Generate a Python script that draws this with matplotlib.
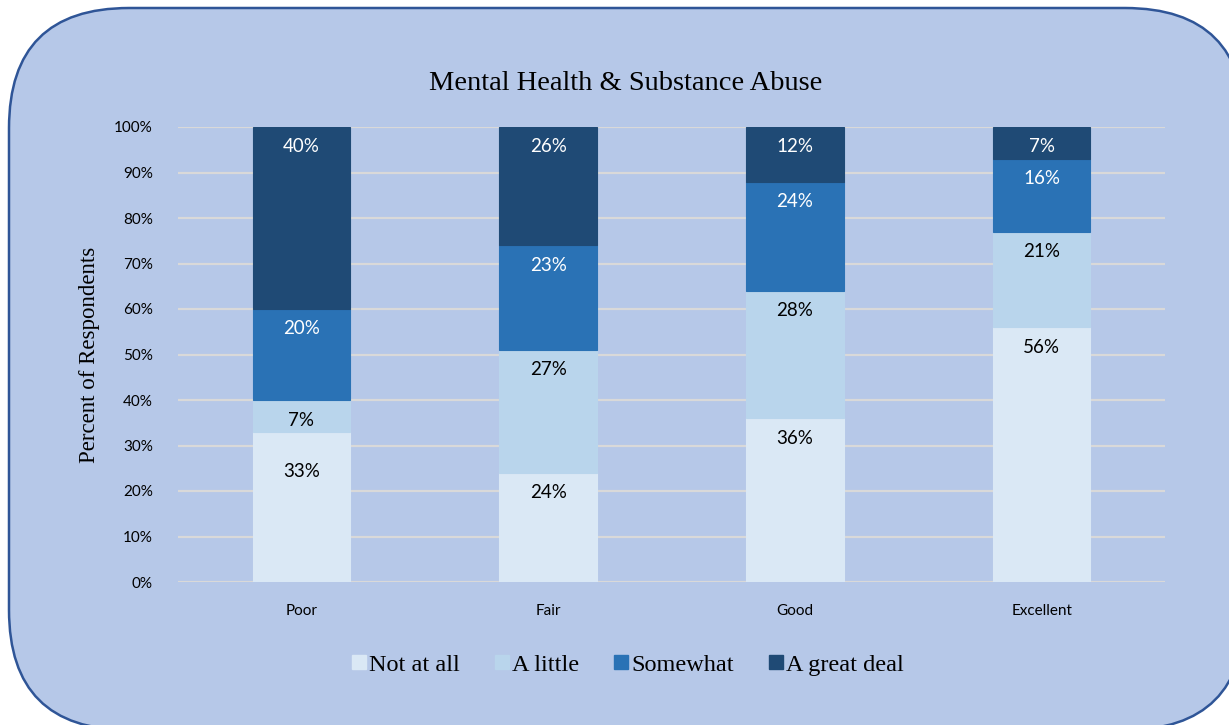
import matplotlib
matplotlib.use("Agg")
import matplotlib.pyplot as plt
from matplotlib.patches import FancyBboxPatch
from matplotlib.lines import Line2D
import numpy as np

categories = ["Poor", "Fair", "Good", "Excellent"]
series_names = ["Not at all", "A little", "Somewhat", "A great deal"]
not_at_all = [33, 24, 36, 56]
a_little = [7, 27, 28, 21]
somewhat = [20, 23, 24, 16]
great_deal = [40, 26, 12, 7]
y_ticks = [0, 10, 20, 30, 40, 50, 60, 70, 80, 90, 100]
title = "Mental Health & Substance Abuse"
y_label = "Percent of Respondents"

series = [not_at_all, a_little, somewhat, great_deal]
colors = ["#DAE8F5", "#B9D5EC", "#2A72B5", "#1F4A75"]
text_colors = ["black", "black", "white", "white"]

W, H = 1229, 725
fig = plt.figure(figsize=(W / 100, H / 100), dpi=100)
fig.patch.set_facecolor("white")

# rounded background panel
bg = FancyBboxPatch((0.09, -0.05), 12.36, 7.22,
                    boxstyle="round,pad=0,rounding_size=1.2",
                    transform=fig.dpi_scale_trans,
                    facecolor="#B6C8E8", edgecolor="#2F5597", linewidth=1.8,
                    zorder=-5)
fig.patches.append(bg)

ax = fig.add_axes([178 / W, 1 - 582 / H, (1165 - 178) / W, (582 - 127) / H])
ax.set_zorder(2)
ax.set_facecolor("none")
for s in ax.spines.values():
    s.set_visible(False)

x = np.arange(len(categories))
bottom = np.zeros(len(categories))
width = 0.395
px_per_unit = (582 - 127) / 100.0
offset = 20 / px_per_unit
# extra downward nudge (pixels) for a label that sits lower in the original
extra_nudge = {(0, 0): 20}
for si, (vals, col, tc, name) in enumerate(zip(series, colors, text_colors, series_names)):
    vals = np.array(vals, dtype=float)
    ax.bar(x, vals, width, bottom=bottom, color=col, edgecolor=col,
           linewidth=0.8, zorder=3, label=name)
    for ci, (xi, b, v) in enumerate(zip(x, bottom, vals)):
        nud = extra_nudge.get((ci, si), 0) / px_per_unit
        ax.text(xi, b + v - offset - nud, f"{int(v)}%", ha="center", va="center",
                color=tc, fontsize=13.5, family="Lato", zorder=4)
    bottom += vals

ax.set_ylim(0, 100)
ax.set_xlim(-0.5, len(categories) - 0.5)
ax.set_yticks(y_ticks)
ax.set_yticklabels([f"{t}%" for t in y_ticks], family="Lato", fontsize=11)
ax.set_xticks(x)
ax.set_xticklabels(categories, family="Lato", fontsize=11)
ax.tick_params(axis="both", length=0)
ax.tick_params(axis="y", pad=18)
ax.tick_params(axis="x", pad=16)
ax.grid(axis="y", color="#D9D9D9", linewidth=1.6, zorder=1)
ax.set_axisbelow(True)

ax.set_ylabel(y_label, family="Liberation Serif", fontsize=16.5)
ax.yaxis.set_label_coords((100 - 178) / 987, 0.5)
fig.text(626 / W, 1 - 84 / H, title, ha="center", va="center",
         family="Liberation Serif", fontsize=20.5)

handles = [Line2D([], [], marker="s", linestyle="none", markersize=10,
                  markerfacecolor=c, markeredgecolor=c) for c in colors]
fig.legend(handles, series_names, loc="center", bbox_to_anchor=(627 / W, 1 - 665 / H),
           ncol=4, frameon=False, prop={"family": "Liberation Serif", "size": 17.5},
           handletextpad=0.05, columnspacing=1.4, handlelength=0.7)

fig.savefig("out.png", dpi=100)
